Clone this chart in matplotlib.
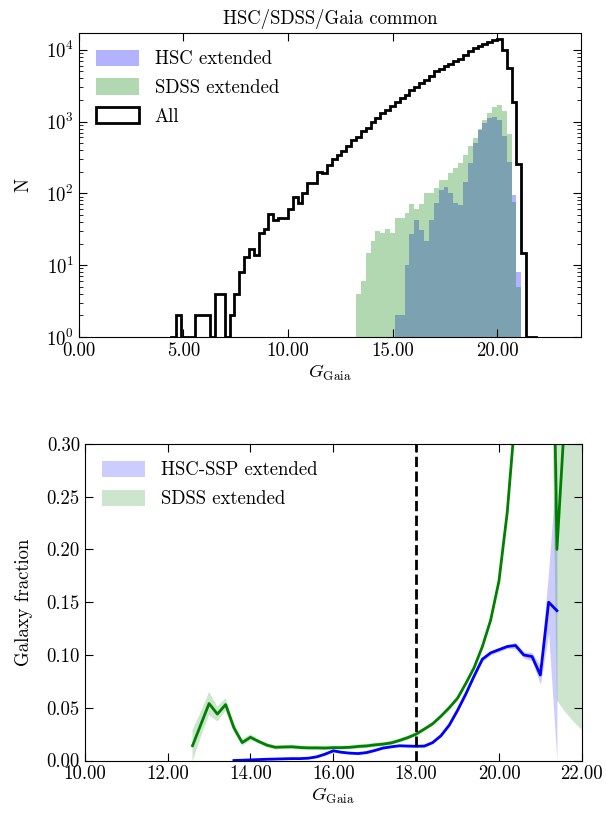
# Gaia G magnitude distribution and galaxy fraction for the HSC/SDSS/Gaia common sample
import matplotlib
matplotlib.use('Agg')
from matplotlib import pyplot as plt
from matplotlib.ticker import FormatStrFormatter, MultipleLocator
import numpy as np

plt.rcParams['font.family'] = 'serif'
plt.rcParams['font.serif'] = ['cmr10']
plt.rcParams['mathtext.fontset'] = 'cm'
plt.rcParams['axes.unicode_minus'] = False
plt.rcParams['axes.formatter.use_mathtext'] = True
plt.rcParams['font.size'] = 13.5

# Histogram bins (G mag)
edges = np.linspace(0, 23, 100)

# Counts per bin, first bin index given by *_start
all_start = 19
all_counts = [1, 2, 1, 1, 1, 2, 2, 2, 1, 4, 4, 1, 2,
              4, 8, 13, 17, 14, 28, 32, 51, 43, 45, 45, 60, 90, 74, 100, 141, 141,
              200, 190, 245, 305, 340, 395, 460, 555, 615, 745, 825, 985, 1120,
              1300, 1450, 1660, 1900, 2130, 2350, 2760, 3020,
              3400, 3800, 4250, 5000, 5400, 5900, 6350, 6900, 7500, 8500, 9500,
              10500, 11400, 12200, 13000, 13600, 14100,
              10000, 5500, 1900, 260, 15, 1, 1]
sdss_start = 57
sdss_counts = [4, 6, 15, 22, 30, 28, 32, 28, 46, 46, 53, 71, 60, 72, 100,
               100, 117, 153, 153, 195, 223, 262, 340, 450, 590, 800, 1050,
               1300, 1620, 1700, 1400, 675, 76, 5]
hsc_start = 65
hsc_counts = [2, 2, 10, 27, 42, 31, 22, 42, 73, 111, 124, 100, 73, 69, 145,
              265, 500, 760, 960, 1120, 1150, 1050, 620, 275, 95, 8]

# Galaxy fraction vs G
mag_sdss = [12.6, 12.8, 13.0, 13.2, 13.4, 13.6, 13.8, 14.0, 14.2, 14.4, 14.6, 14.8,
            15.0, 15.2, 15.4, 15.6, 15.8, 16.0, 16.2, 16.4, 16.6, 16.8, 17.0, 17.2,
            17.4, 17.6, 17.8, 18.0, 18.2, 18.4, 18.6, 18.8, 19.0, 19.2, 19.4, 19.6,
            19.8, 20.0, 20.2, 20.4, 20.6, 20.8, 21.0, 21.2, 21.4, 21.6, 21.8, 22.0]
frac_sdss = [0.014, 0.034, 0.054, 0.044, 0.053, 0.031, 0.017, 0.022, 0.018, 0.0145,
             0.0125, 0.0128, 0.013, 0.0123, 0.012, 0.012, 0.0118, 0.0122, 0.0122,
             0.0125, 0.0133, 0.0138, 0.0148, 0.0155, 0.0167, 0.019, 0.0217, 0.025,
             0.0298, 0.0348, 0.042, 0.05, 0.059, 0.073, 0.088, 0.108, 0.133, 0.17,
             0.235, 0.33, 0.5, 0.7, 0.9, 0.7, 0.2, 0.333, 0.5, 0.6]
err_sdss = [0.015, 0.012, 0.011, 0.007, 0.006, 0.004, 0.003, 0.003, 0.002, 0.002,
            0.002, 0.002, 0.002, 0.002, 0.002, 0.002, 0.002, 0.002, 0.002, 0.002,
            0.002, 0.002, 0.002, 0.002, 0.002, 0.002, 0.002, 0.002, 0.002, 0.002,
            0.002, 0.002, 0.002, 0.002, 0.002, 0.002, 0.002, 0.003, 0.003, 0.005,
            0.01, 0.03, 0.05, 0.15, 0.143, 0.287, 0.463, 0.571]
mag_hsc = [13.6, 13.8, 14.0, 14.2, 14.4, 14.6, 14.8, 15.0, 15.2, 15.4, 15.6, 15.8,
           16.0, 16.2, 16.4, 16.6, 16.8, 17.0, 17.2, 17.4, 17.6, 17.8, 18.0, 18.2,
           18.4, 18.6, 18.8, 19.0, 19.2, 19.4, 19.6, 19.8, 20.0, 20.2, 20.4, 20.6,
           20.8, 21.0, 21.2, 21.4]
frac_hsc = [0.0, 0.0003, 0.0006, 0.0009, 0.0012, 0.0014, 0.0016, 0.0018, 0.0018,
            0.0022, 0.0035, 0.006, 0.0092, 0.0078, 0.007, 0.0066, 0.0075, 0.0095,
            0.0118, 0.013, 0.014, 0.0137, 0.0135, 0.0137, 0.017, 0.0235, 0.0335,
            0.0475, 0.063, 0.08, 0.096, 0.102, 0.105, 0.108, 0.109, 0.1, 0.0985,
            0.081, 0.15, 0.142]
err_hsc = [0.0005, 0.0005, 0.0005, 0.0005, 0.0005, 0.0005, 0.0005, 0.0005, 0.0005,
           0.0005, 0.0008, 0.001, 0.001, 0.001, 0.001, 0.001, 0.001, 0.001, 0.001,
           0.001, 0.001, 0.001, 0.001, 0.001, 0.001, 0.001, 0.0012, 0.0015, 0.0015,
           0.0015, 0.002, 0.002, 0.002, 0.002, 0.003, 0.003, 0.004, 0.009, 0.03,
           0.142]


def full(start, counts):
    n = np.zeros(len(edges) - 1)
    n[start:start + len(counts)] = counts
    return n


fig = plt.figure(figsize=(6.06, 8.16), dpi=100)

# Top: histograms
ax1 = fig.add_axes([0.130, 0.587, 0.829, 0.373])
centers = 0.5 * (edges[:-1] + edges[1:])
ax1.hist(centers, bins=edges, weights=full(hsc_start, hsc_counts), histtype='stepfilled',
         color='b', alpha=0.3, lw=0, log=True, label='HSC extended')
ax1.hist(centers, bins=edges, weights=full(sdss_start, sdss_counts), histtype='stepfilled',
         color='g', alpha=0.3, lw=0, log=True, label='SDSS extended')
ax1.hist(centers, bins=edges, weights=full(all_start, all_counts), histtype='step',
         color='k', lw=2, log=True, label='All')
ax1.set_xlim(0, 24)
ax1.set_ylim(1, 1.73e4)
ax1.xaxis.set_major_locator(MultipleLocator(5))
ax1.xaxis.set_major_formatter(FormatStrFormatter('%.2f'))
ax1.set_xlabel(r'$G_{\rm Gaia}$', labelpad=2)
ax1.set_ylabel('N', labelpad=10)
ax1.set_title('HSC/SDSS/Gaia common', fontsize=13.5)
ax1.legend(loc='upper left', frameon=False, handlelength=2.3, handleheight=0.95,
           labelspacing=0.55, handletextpad=0.85, borderaxespad=0.5)

# Bottom: galaxy fraction
ax2 = fig.add_axes([0.140, 0.068, 0.820, 0.388])
lo_h = np.array(frac_hsc) - np.array(err_hsc)
hi_h = np.array(frac_hsc) + np.array(err_hsc)
lo_s = np.array(frac_sdss) - np.array(err_sdss)
hi_s = np.array(frac_sdss) + np.array(err_sdss)
ax2.fill_between(mag_hsc, lo_h, hi_h, color='b', alpha=0.2, lw=0, label='HSC-SSP extended')
ax2.fill_between(mag_sdss, lo_s, hi_s, color='g', alpha=0.2, lw=0, label='SDSS extended')
ax2.plot(mag_hsc, frac_hsc, color='b', lw=2)
ax2.plot(mag_sdss, frac_sdss, color='g', lw=2)
ax2.axvline(18.0, color='k', ls='--', lw=2)
ax2.set_xlim(10, 22)
ax2.set_ylim(0, 0.30)
ax2.xaxis.set_major_locator(MultipleLocator(2))
ax2.xaxis.set_major_formatter(FormatStrFormatter('%.2f'))
ax2.yaxis.set_major_locator(MultipleLocator(0.05))
ax2.yaxis.set_major_formatter(FormatStrFormatter('%.2f'))
ax2.set_xlabel(r'$G_{\rm Gaia}$', labelpad=2)
ax2.set_ylabel('Galaxy fraction', labelpad=10)
ax2.legend(loc='upper left', frameon=False, handlelength=2.3, handleheight=0.95,
           labelspacing=0.55, handletextpad=0.85, borderaxespad=0.5)

for ax in (ax1, ax2):
    ax.tick_params(which='both', direction='in', top=True, right=True)
    ax.tick_params(which='major', length=6)
    ax.tick_params(which='minor', length=3)

fig.savefig('out.png', dpi=100)
